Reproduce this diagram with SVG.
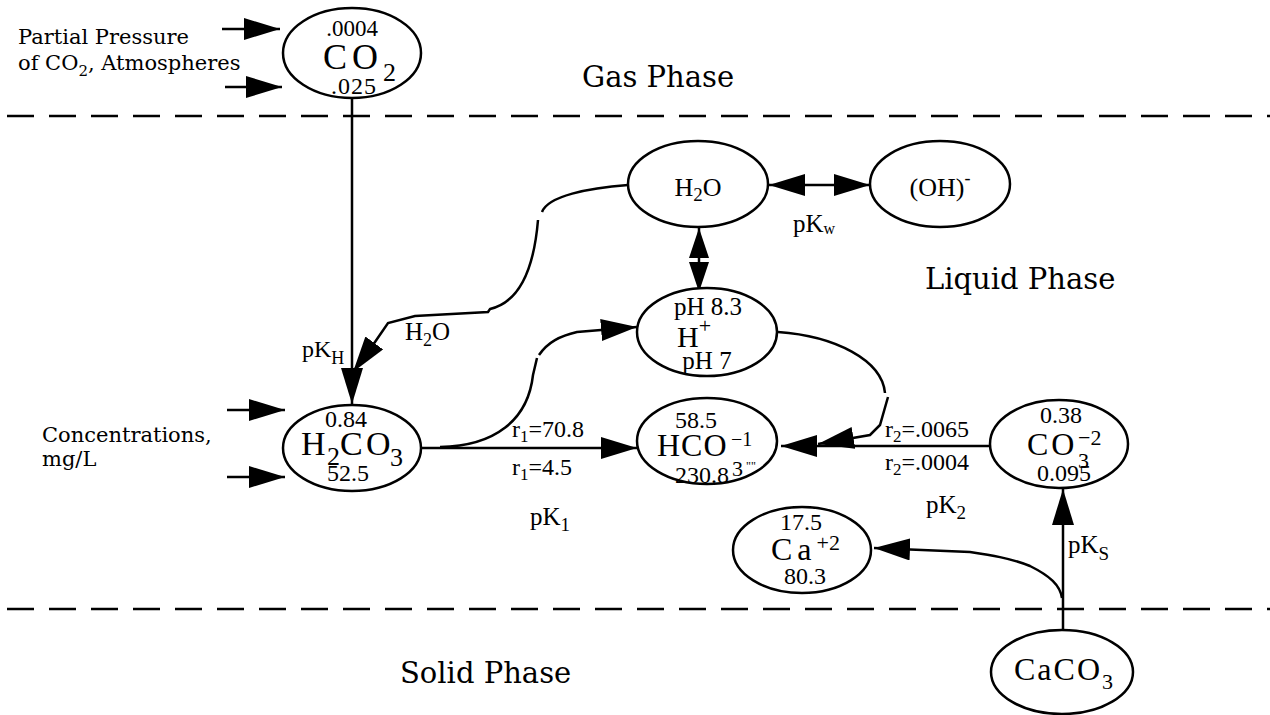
<svg xmlns="http://www.w3.org/2000/svg" width="1270" height="715" viewBox="0 0 1270 715">
<style>
.bg{fill:#fff}
.node{fill:#fff;stroke:#000;stroke-width:2.5}
.t{font-family:"Liberation Serif","Times New Roman",serif;fill:#000}
.pal{font-family:"DejaVu Serif","Liberation Serif",serif;fill:#000}
.c{stroke:#000;stroke-width:2.5;fill:none}
.a{marker-end:url(#ah)}
.ab{marker-end:url(#ah);marker-start:url(#ahs)}
.abm{marker-end:url(#ahm);marker-start:url(#ahms)}
.dash{stroke:#000;stroke-width:2.5;stroke-dasharray:27 15;fill:none}
</style>
<defs>
<marker id="ah" markerUnits="userSpaceOnUse" markerWidth="38" markerHeight="24" refX="36" refY="11" orient="auto">
<path d="M0,0 L36,11 L0,22 Z" fill="#000"/>
</marker>
<marker id="ahs" markerUnits="userSpaceOnUse" markerWidth="38" markerHeight="24" refX="36" refY="11" orient="auto-start-reverse">
<path d="M0,0 L36,11 L0,22 Z" fill="#000"/>
</marker>
<marker id="ahm" markerUnits="userSpaceOnUse" markerWidth="32" markerHeight="22" refX="30" refY="10" orient="auto">
<path d="M0,0 L30,10 L0,20 Z" fill="#000"/>
</marker>
<marker id="ahms" markerUnits="userSpaceOnUse" markerWidth="32" markerHeight="22" refX="30" refY="10" orient="auto-start-reverse">
<path d="M0,0 L30,10 L0,20 Z" fill="#000"/>
</marker>
</defs>
<rect class="bg" width="1270" height="715"/>

<g id="phases">
<line class="dash" x1="7" y1="116" x2="1270" y2="116"/>
<line class="dash" x1="7" y1="609" x2="1270" y2="609"/>
<text class="pal" x="582" y="87" font-size="29">Gas Phase</text>
<text class="pal" x="925" y="289" font-size="29">Liquid Phase</text>
<text class="pal" x="400" y="683" font-size="29">Solid Phase</text>
</g>

<g id="legend">
<text class="pal" x="18" y="44" font-size="21">Partial Pressure</text>
<text class="pal" x="18" y="70" font-size="21">of CO<tspan font-size="15" dy="6">2</tspan><tspan dy="-6">, Atmospheres</tspan></text>
<text class="pal" x="42" y="442" font-size="21">Concentrations,</text>
<text class="pal" x="42" y="466" font-size="21">mg/L</text>
</g>

<g id="connectors">
<line class="c a" x1="222" y1="29" x2="280" y2="29"/>
<line class="c a" x1="225" y1="87" x2="282" y2="87"/>
<line class="c a" x1="227" y1="410" x2="285" y2="410"/>
<line class="c a" x1="227" y1="477" x2="285" y2="477"/>
<line class="c a" x1="352" y1="98" x2="352" y2="404"/>
<path class="c" d="M628,185 C588,188 548,196 542,212"/>
<path class="c a" d="M538,220 C534,268 520,302 490,309 L488,312 L415,316 L388,323 L375,342 L353,372"/>
<line class="c ab" x1="769" y1="185" x2="870" y2="185"/>
<line class="c abm" x1="699" y1="228" x2="699" y2="292"/>
<path class="c" d="M440,447 C495,446 528,420 533,375 L537,358"/>
<path class="c a" d="M539,355 C548,342 560,336 577,332 L637,327"/>
<path class="c" d="M778,332 C835,336 882,360 885,393"/>
<path class="c a" d="M888,397 L880,425 L870,435 L818,444"/>
<line class="c a" x1="422" y1="448" x2="637" y2="448"/>
<line class="c a" x1="990" y1="446" x2="781" y2="446"/>
<line class="c a" x1="1063" y1="630" x2="1063" y2="489"/>
<path class="c a" d="M1062,598 C1060,585 1050,576 1030,566 C1010,558 990,555 970,552 L874,548"/>
<text class="t" x="302" y="357" font-size="24">pK<tspan font-size="18" dy="7">H</tspan></text>
<text class="t" x="405" y="340" font-size="25">H<tspan font-size="18" dy="6">2</tspan><tspan dy="-6">O</tspan></text>
<text class="t" x="793" y="232" font-size="25">pK<tspan font-size="16" dy="2">w</tspan></text>
<text class="t" x="512" y="437" font-size="24">r<tspan font-size="17" dy="5">1</tspan><tspan dy="-5">=70.8</tspan></text>
<text class="t" x="512" y="475" font-size="24">r<tspan font-size="17" dy="5">1</tspan><tspan dy="-5">=4.5</tspan></text>
<text class="t" x="530" y="525" font-size="25">pK<tspan font-size="19" dy="6">1</tspan></text>
<text class="t" x="885" y="437" font-size="24">r<tspan font-size="17" dy="5">2</tspan><tspan dy="-5">=.0065</tspan></text>
<text class="t" x="885" y="470" font-size="24">r<tspan font-size="17" dy="5">2</tspan><tspan dy="-5">=.0004</tspan></text>
<text class="t" x="926" y="513" font-size="25">pK<tspan font-size="19" dy="6">2</tspan></text>
<text class="t" x="1068" y="553" font-size="25">pK<tspan font-size="19" dy="7">S</tspan></text>
</g>

<g id="n-co2">
<ellipse class="node" cx="352" cy="53" rx="69" ry="45"/>
<text class="t" x="352" y="36" font-size="23" text-anchor="middle">.0004</text>
<text class="t" x="323" y="69" font-size="36" letter-spacing="5">CO<tspan font-size="26" dy="12" letter-spacing="0">2</tspan></text>
<text class="t" x="354" y="94" font-size="24" text-anchor="middle" letter-spacing="1">.025</text>
</g>

<g id="n-h2co3">
<ellipse class="node" cx="352" cy="448" rx="69" ry="43"/>
<text class="t" x="346" y="427" font-size="24" text-anchor="middle">0.84</text>
<text class="t" y="455" font-size="34"><tspan x="301">H</tspan><tspan x="327" y="465" font-size="26">2</tspan><tspan x="340" y="455">C</tspan><tspan x="366">O</tspan><tspan x="390" y="466" font-size="26">3</tspan></text>
<text class="t" x="348" y="481" font-size="24" text-anchor="middle">52.5</text>
</g>

<g id="n-h2o">
<ellipse class="node" cx="698" cy="184" rx="70" ry="43"/>
<text class="t" x="698" y="196" font-size="26" text-anchor="middle">H<tspan font-size="19" dy="5">2</tspan><tspan dy="-5">O</tspan></text>
</g>

<g id="n-oh">
<ellipse class="node" cx="940" cy="184" rx="70" ry="43"/>
<text class="t" x="940" y="196" font-size="26" text-anchor="middle">(OH)<tspan font-size="18" dy="-12">-</tspan></text>
</g>

<g id="n-hplus">
<ellipse class="node" cx="707" cy="332" rx="70" ry="44"/>
<text class="t" x="708" y="315" font-size="25" text-anchor="middle">pH 8.3</text>
<text class="t" x="677" y="347" font-size="30">H<tspan font-size="22" dy="-14">+</tspan></text>
<text class="t" x="707" y="369" font-size="25" text-anchor="middle">pH 7</text>
</g>

<g id="n-hco3">
<ellipse class="node" cx="707" cy="441" rx="70" ry="43"/>
<text class="t" x="696" y="428" font-size="24" text-anchor="middle">58.5</text>
<text class="t" x="657" y="456" font-size="32" letter-spacing="1">HCO</text>
<text class="t" x="731" y="446" font-size="20">−1</text>
<text class="t" x="732" y="476" font-size="22">3</text>
<text class="t" x="746" y="470" font-size="12">""</text>
<text class="t" x="702" y="483" font-size="24" text-anchor="middle">230.8</text>
</g>

<g id="n-co3">
<ellipse class="node" cx="1059" cy="444" rx="69" ry="44"/>
<text class="t" x="1061" y="423" font-size="24" text-anchor="middle">0.38</text>
<text class="t" x="1027" y="455" font-size="32" letter-spacing="3">CO</text>
<text class="t" x="1078" y="445" font-size="22">−2</text>
<text class="t" x="1078" y="468" font-size="22">3</text>
<text class="t" x="1064" y="481" font-size="24" text-anchor="middle">0.095</text>
</g>

<g id="n-ca">
<ellipse class="node" cx="802" cy="550" rx="69" ry="43"/>
<text class="t" x="801" y="530" font-size="24" text-anchor="middle">17.5</text>
<text class="t" x="771" y="560" font-size="32" letter-spacing="5">Ca<tspan font-size="22" dy="-10" letter-spacing="0">+2</tspan></text>
<text class="t" x="805" y="584" font-size="24" text-anchor="middle">80.3</text>
</g>

<g id="n-caco3">
<ellipse class="node" cx="1062" cy="672" rx="71" ry="42"/>
<text class="t" x="1014" y="680" font-size="32" letter-spacing="2">CaCO<tspan font-size="22" dy="9" letter-spacing="0">3</tspan></text>
</g>
</svg>
